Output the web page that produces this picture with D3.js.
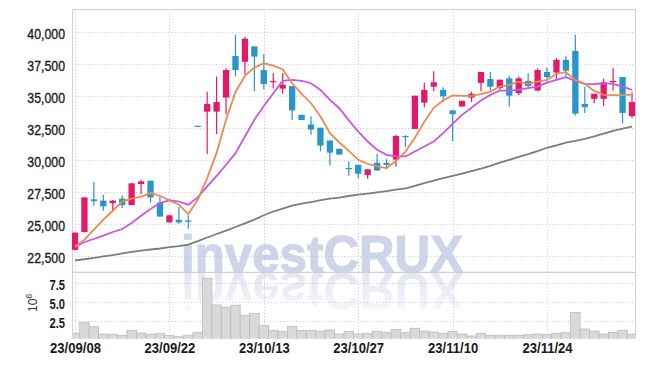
<!DOCTYPE html>
<html><head><meta charset="utf-8">
<script src="https://cdn.jsdelivr.net/npm/d3@7"></script>
<style>html,body{margin:0;padding:0;background:#fff;} svg{display:block;}</style>
</head><body><svg id="c" width="645" height="366"></svg>
<script>
const dates = ["2023-09-08","2023-09-11","2023-09-12","2023-09-13","2023-09-14","2023-09-15","2023-09-18","2023-09-19","2023-09-20","2023-09-21","2023-09-22","2023-09-25","2023-09-26","2023-09-27",
"2023-10-04","2023-10-05","2023-10-06","2023-10-10","2023-10-11","2023-10-12","2023-10-13","2023-10-16","2023-10-17","2023-10-18","2023-10-19","2023-10-20","2023-10-23","2023-10-24","2023-10-25","2023-10-26","2023-10-27","2023-10-30","2023-10-31",
"2023-11-01","2023-11-02","2023-11-03","2023-11-06","2023-11-07","2023-11-08","2023-11-09","2023-11-10","2023-11-13","2023-11-14","2023-11-15","2023-11-16","2023-11-17","2023-11-20","2023-11-21","2023-11-22","2023-11-23","2023-11-24","2023-11-27","2023-11-28","2023-11-29","2023-11-30",
"2023-12-01","2023-12-04","2023-12-05","2023-12-06","2023-12-07"];

const open  = [23000,24400,26950,26850,26650,27000,26500,28150,28400,26700,25150,25350,25300,32700,33800,33800,34900,38150,37700,38900,37050,36100,35600,35800,33550,32800,32550,31550,30900,29400,29650,28850,29800,29800,30050,31900,32450,34500,35750,35500,33900,34200,34900,36050,36350,35650,36400,35250,36200,35450,36900,36850,37850,38550,34400,34800,34800,36100,36500,33450];
const high  = [24350,27100,28300,27300,26900,27250,28200,28450,28400,27200,25700,26350,25700,32700,35350,36550,37200,39800,39650,38900,38300,36800,36800,35800,33550,33450,32550,31550,30900,29900,29650,29300,30500,30100,32000,31950,35050,36050,36950,35700,33900,34650,35350,36900,36900,36300,36600,36550,36800,37200,37250,38000,38150,39800,35750,35200,36400,37200,36500,35300];
const low   = [22950,24350,26450,26050,26050,26250,26500,27350,26700,25600,25150,25050,24650,32650,30500,32050,33600,36550,36700,35400,35550,35600,35200,33150,33150,32000,30700,29600,30450,28800,28600,28550,29200,29300,29500,31050,32450,34150,35400,34600,31500,34200,34550,35400,35500,35400,34200,35100,35650,35400,36150,36300,36550,33500,33700,34450,34250,35450,32900,33300];
const close = [24350,27100,26800,26400,26850,26500,28200,28350,27100,25600,25700,25150,25200,32650,34400,34550,37050,37050,39500,38100,35950,36200,35900,33900,33150,32400,31150,30600,30450,29350,28950,29300,29200,29650,31900,31850,35050,35500,36100,35000,33600,34650,35200,36900,35750,36300,35050,36400,35800,37050,36500,37850,37000,33650,34150,35200,36100,36200,33700,34550];
const volume = [830000,2300000,1710000,730000,690000,560000,1230000,870000,690000,830000,560000,370000,560000,960000,8170000,4610000,4300000,4580000,3240000,3500000,1900000,1230000,1090000,1760000,1230000,1230000,1130000,1270000,730000,1090000,730000,830000,1090000,960000,1360000,910000,1500000,1130000,1000000,830000,1090000,730000,470000,830000,560000,560000,560000,560000,640000,730000,640000,830000,910000,3630000,1400000,1130000,730000,960000,1230000,730000];

const maShort = [23270,23800,24580,25360,26060,26780,27000,27170,27440,27230,26860,26530,25800,26920,28610,30580,33160,35340,36590,37240,37580,37400,37120,36020,35190,34460,33420,32120,31390,30740,30040,29730,29520,29390,29960,30660,31760,33000,34100,34670,35070,35030,35030,35170,35370,35760,35890,36150,35970,36150,36280,36750,36880,36280,35970,35420,35110,35090,35090,35130];
const maMid   = [23230,23620,23850,24110,24400,24630,25100,25670,26190,26660,26890,26780,26530,27100,27960,28790,29650,30560,31860,33160,34250,35240,36200,36280,36200,36020,35500,34720,34070,33120,32250,31470,30820,30430,30300,30300,30690,31080,31470,32120,32850,33550,34100,34680,35110,35450,35450,35500,35630,35760,36070,36280,36490,36200,35970,35950,36020,35970,35760,35500];
const maLong  = [22180,22270,22370,22490,22590,22720,22840,22950,23030,23110,23210,23300,23410,23680,23970,24240,24510,24790,25070,25360,25710,26000,26230,26450,26610,26740,26880,27000,27090,27210,27310,27400,27500,27600,27710,27810,28010,28220,28420,28600,28790,28960,29160,29350,29570,29820,30040,30270,30480,30720,30980,31170,31380,31520,31680,31870,32080,32300,32470,32640];

const priceTicks = [22500,25000,27500,30000,32500,35000,37500,40000];
const volumeTicks = [2500000,5000000,7500000];
const tickDates  = ["2023-09-08","2023-09-22","2023-10-13","2023-10-27","2023-11-10","2023-11-24"];
const tickLabels = ["23/09/08","23/09/22","23/10/13","23/10/27","23/11/10","23/11/24"];

const UP = "#e5196b", DOWN = "#2a95c8";
const L = 72, R = 636, T = 9, SEP = 272.3, B = 338.5;
const FONT = "'Liberation Sans',Arial,sans-serif";

const svg = d3.select("#c");
const x = d3.scalePoint().domain(dates).range([75, 632]);
const y = d3.scaleLinear().domain([22500, 40000]).range([256.3, 32.3]);
const yv = d3.scaleLinear().domain([0, 7500000]).range([339.5, 283.3]);
const step = x.step();

const defs = svg.append("defs");
defs.append("clipPath").attr("id","cp").append("rect").attr("x",L).attr("y",T).attr("width",R-L).attr("height",SEP-T);
defs.append("clipPath").attr("id","cv").append("rect").attr("x",L).attr("y",SEP).attr("width",R-L).attr("height",B-SEP);
const grad = defs.append("linearGradient").attr("id","refl").attr("x1",0).attr("y1",0).attr("x2",0).attr("y2",1);
grad.append("stop").attr("offset","0%").attr("stop-color","#cfd5e8").attr("stop-opacity",0.1);
grad.append("stop").attr("offset","100%").attr("stop-color","#cfd5e8").attr("stop-opacity",0.7);

svg.append("rect").attr("width",645).attr("height",366).attr("fill","#fff");

// watermark
const wm = svg.append("g").attr("font-family",FONT).attr("font-weight","bold").attr("font-size",52);
wm.append("text").attr("x",181).attr("y",271.5).attr("textLength",282).attr("lengthAdjust","spacingAndGlyphs")
  .attr("fill","#cfd5e8").attr("stroke","#cfd5e8").attr("stroke-width",1.2).text("investCRUX");
wm.append("text").attr("x",181).attr("y",271.5).attr("textLength",282).attr("lengthAdjust","spacingAndGlyphs")
  .attr("transform","translate(0,544.6) scale(1,-1)")
  .attr("fill","url(#refl)").text("investCRUX");

// gridlines
const grid = svg.append("g").attr("stroke","#c2c8dc").attr("stroke-width",1).attr("stroke-dasharray","1,2.2");
grid.selectAll("line.hp").data(priceTicks).join("line").attr("class","hp")
  .attr("x1",L).attr("x2",R).attr("y1",d=>Math.round(y(d))+0.5).attr("y2",d=>Math.round(y(d))+0.5);
grid.selectAll("line.hv").data(volumeTicks).join("line").attr("class","hv")
  .attr("x1",L).attr("x2",R).attr("y1",d=>Math.round(yv(d))+0.5).attr("y2",d=>Math.round(yv(d))+0.5);
grid.selectAll("line.vx").data(tickDates).join("line").attr("class","vx")
  .attr("x1",d=>Math.round(x(d))+0.5).attr("x2",d=>Math.round(x(d))+0.5).attr("y1",T).attr("y2",B);

// frame
svg.append("rect").attr("x",L+0.5).attr("y",T+0.5).attr("width",R-L-1).attr("height",B-T-1)
  .attr("fill","none").attr("stroke","#d2d2d2");
svg.append("line").attr("x1",L).attr("x2",R).attr("y1",SEP).attr("y2",SEP).attr("stroke","#cfcfcf").attr("stroke-width",1.3);

// volume bars
svg.append("g").attr("clip-path","url(#cv)").selectAll("rect").data(dates).join("rect")
  .attr("x",d=>x(d)-step/2).attr("width",step)
  .attr("y",(d,i)=>yv(volume[i])).attr("height",(d,i)=>yv(0)-yv(volume[i]))
  .attr("fill","#d9d9d9").attr("stroke","#bcbcbc").attr("stroke-width",0.8);

// candles
const cg = svg.append("g").attr("clip-path","url(#cp)");
const bw = 6.3;
cg.selectAll("line.wick").data(dates).join("line").attr("class","wick")
  .attr("x1",d=>x(d)).attr("x2",d=>x(d))
  .attr("y1",(d,i)=>y(high[i])).attr("y2",(d,i)=>y(low[i]))
  .attr("stroke",(d,i)=>close[i]>=open[i]?UP:DOWN).attr("stroke-width",1.2);
cg.selectAll("rect.body").data(dates).join("rect").attr("class","body")
  .attr("x",d=>x(d)-bw/2).attr("width",bw)
  .attr("y",(d,i)=>y(Math.max(open[i],close[i])))
  .attr("height",(d,i)=>Math.max(1.2, Math.abs(y(open[i])-y(close[i]))))
  .attr("fill",(d,i)=>close[i]>=open[i]?UP:DOWN);

// MA lines
const lineGen = arr => d3.line().x((d,i)=>x(dates[i])).y(d=>y(d))(arr);
const lg = svg.append("g").attr("clip-path","url(#cp)").attr("fill","none");
lg.append("path").attr("d",lineGen(maLong)).attr("stroke","#7d7d7d").attr("stroke-width",1.8);
lg.append("path").attr("d",lineGen(maMid)).attr("stroke","#c955e6").attr("stroke-width",1.8);
lg.append("path").attr("d",lineGen(maShort)).attr("stroke","#ee8a50").attr("stroke-width",1.8);

function condense(sel, k){
  sel.each(function(){
    const w = this.getComputedTextLength();
    d3.select(this).attr("textLength", w*k).attr("lengthAdjust","spacingAndGlyphs");
  });
}

// axes labels
const ay = svg.append("g").attr("transform",`translate(${L},2)`)
  .call(d3.axisLeft(y).tickValues(priceTicks).tickSize(0).tickPadding(7).tickFormat(d3.format(",")));
ay.select(".domain").remove();
ay.selectAll("text").attr("font-family",FONT).attr("font-size",14.5).attr("fill","#1a1a1a")
  .attr("stroke","#1a1a1a").attr("stroke-width",0.35);
condense(ay.selectAll("text"), 0.85);

const av = svg.append("g").attr("transform",`translate(${L},2)`)
  .call(d3.axisLeft(yv).tickValues(volumeTicks).tickSize(0).tickPadding(7).tickFormat(d=>d3.format(".1f")(d/1e6)));
av.select(".domain").remove();
av.selectAll("text").attr("font-family",FONT).attr("font-size",14).attr("font-weight","bold").attr("fill","#1a1a1a");
condense(av.selectAll("text"), 0.8);

const ax = svg.append("g").attr("transform",`translate(0,${B})`)
  .call(d3.axisBottom(x).tickValues(tickDates).tickSize(0).tickPadding(4).tickFormat((d,i)=>tickLabels[i]));
ax.select(".domain").remove();
ax.selectAll("text").attr("font-family",FONT).attr("font-size",15).attr("font-weight","bold").attr("fill","#1a1a1a");
condense(ax.selectAll("text"), 0.87);

// 10^6 unit label
const ut = svg.append("text").attr("transform","translate(37,312) rotate(-90)")
  .attr("font-family",FONT).attr("font-size",12).attr("fill","#333");
ut.append("tspan").text("10");
ut.append("tspan").attr("dy",-5).attr("font-size",9).text("6");
</script></body></html>
